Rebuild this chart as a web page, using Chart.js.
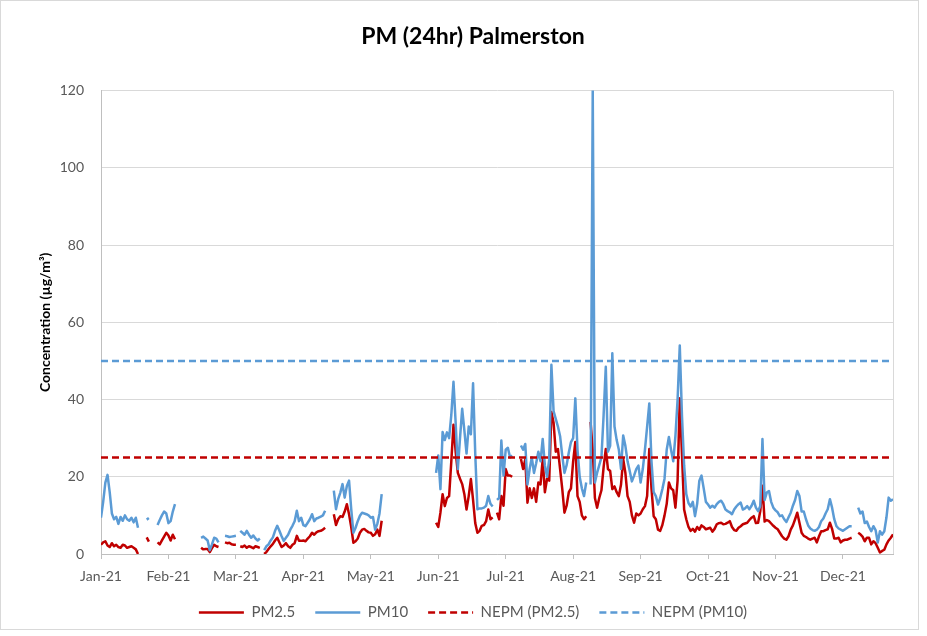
<!DOCTYPE html>
<html>
<head>
<meta charset="utf-8">
<script src="https://cdn.jsdelivr.net/npm/chart.js@4.4.1/dist/chart.umd.min.js"></script>
<style>
  html, body { margin: 0; padding: 0; background: #fff; }
  #wrap { width: 927px; height: 636px; }
</style>
</head>
<body>
<div id="wrap"><canvas id="pmChart" width="927" height="636"></canvas></div>
<script>
// daily 24hr averages for 2021, index = day of year (0 = 1 Jan), null = no data
const pm25 = [
  2.4, 3.0, 3.3, 2.2, 1.8, 2.8, 2.0, 2.4, 1.8, 1.6,
  2.4, 2.2, 1.6, 1.8, 2.0, 1.6, 1.2, 0.0, null, null,
  null, 4.3, 3.2, null, null, null, 3.0, 2.5, 3.5, 4.5,
  5.5, 4.8, 3.5, 5.0, 3.8, null, null, null, null, null,
  null, null, null, null, null, null, 1.6, 1.2, 1.3, 1.3,
  0.5, 1.5, 2.4, 2.0, 1.8, null, null, 3.0, 2.8, 2.9,
  2.5, 2.4, 2.4, null, 2.0, 1.8, 2.2, 1.6, 2.0, 1.8,
  1.5, 2.0, 1.8, 1.6, null, 0.0, 0.5, 1.3, 2.0, 2.6,
  3.5, 4.2, 3.0, 1.8, 2.2, 2.8, 2.0, 1.6, 2.4, 2.8,
  4.7, 3.4, 3.4, 3.5, 3.3, 4.0, 4.6, 5.5, 5.0, 5.6,
  5.9, 6.0, 6.3, 6.8, null, null, null, 10.3, 7.5, 9.0,
  9.8, 9.6, 11.0, 12.9, 10.3, 7.0, 2.9, 3.3, 4.0, 5.5,
  6.3, 6.5, 6.0, 5.6, 5.5, 4.7, 5.1, 6.3, 4.7, 8.6,
  null, null, null, null, null, null, null, null, null, null,
  null, null, null, null, null, null, null, null, null, null,
  null, null, null, null, 8.1, 7.0, 10.7, 15.5, 12.4, 14.5,
  15.0, 24.0, 33.5, 26.5, 21.0, 19.5, 18.1, 15.5, 11.5, 15.0,
  19.4, 14.0, 8.0, 5.5, 6.0, 7.3, 7.5, 8.5, 11.5, 9.0,
  9.5, null, 10.7, 9.0, 15.0, 12.5, 22.0, 20.3, 20.3, 20.0,
  null, null, null, 24.6, 22.0, 24.5, 13.3, 17.0, 14.5, 17.0,
  13.5, 18.5, 18.0, 24.6, 16.0, 19.5, 19.0, 36.8, 34.0, 26.5,
  27.2, 22.0, 16.8, 10.7, 12.5, 16.0, 17.0, 24.0, 29.0, 15.0,
  13.5, 10.0, 9.0, 9.8, null, 34.2, 27.0, 14.5, 12.0, 14.5,
  16.5, 22.5, 27.2, 22.0, 21.5, 16.8, 17.5, 16.0, 15.0, 18.0,
  24.6, 21.0, 15.0, 13.5, 10.0, 8.1, 10.5, 10.0, 10.5, 11.6,
  12.4, 15.0, 27.2, 17.0, 9.8, 9.0, 6.3, 6.0, 7.5, 10.0,
  13.0, 18.5, 17.0, 16.5, 12.0, 19.0, 40.3, 26.0, 11.5, 9.0,
  7.0, 6.0, 6.5, 5.8, 7.0, 6.3, 7.4, 7.0, 6.4, 6.6,
  6.8, 5.8, 6.5, 7.7, 8.0, 8.1, 7.7, 7.8, 8.1, 8.5,
  7.0, 6.2, 6.0, 6.8, 7.2, 7.7, 7.9, 8.1, 8.8, 9.4,
  9.8, 8.0, 8.1, 11.1, 17.7, 8.4, 8.8, 8.5, 7.9, 7.3,
  6.8, 6.4, 5.5, 4.6, 4.0, 3.7, 4.6, 6.3, 7.4, 9.0,
  10.7, 8.1, 5.5, 4.7, 4.4, 4.0, 3.7, 4.0, 4.2, 3.0,
  4.6, 5.9, 5.9, 6.2, 6.4, 8.1, 6.5, 4.0, 4.0, 4.2,
  3.0, 3.5, 3.7, 3.7, 4.0, 4.2, null, null, 5.5, 5.1,
  4.5, 3.3, 4.2, 4.2, 2.5, 3.3, 2.8, 1.6, 0.4, 0.8,
  1.1, 2.5, 3.5, 4.2, 5.1
];

const pm10 = [
  9.4, 13.5, 18.5, 20.5, 16.0, 10.5, 9.0, 9.6, 7.8, 9.6,
  8.6, 10.0, 9.0, 8.6, 9.4, 8.2, 9.4, 6.8, null, null,
  null, 8.9, 9.3, null, null, null, 7.5, 8.8, 10.0, 11.0,
  10.5, 8.0, 8.5, 11.0, 12.9, null, null, null, null, null,
  null, null, null, null, null, null, 4.2, 4.5, 4.0, 3.5,
  1.0, 2.5, 4.2, 4.0, 3.0, null, null, 4.7, 4.6, 4.4,
  4.5, 4.6, 4.7, null, 6.0, 5.5, 5.0, 6.0, 5.0, 4.2,
  4.8, 4.0, 3.5, 4.0, null, 1.0, 2.0, 2.5, 3.5, 4.3,
  6.0, 7.3, 6.0, 4.6, 3.4, 4.2, 5.0, 6.3, 7.3, 8.5,
  11.2, 8.5, 9.4, 7.5, 7.2, 8.1, 9.0, 10.3, 8.5, 9.2,
  9.4, 9.7, 10.0, 11.2, null, null, null, 16.4, 11.6, 14.2,
  15.9, 18.1, 14.6, 17.6, 19.0, 11.6, 5.5, 6.8, 8.5, 9.9,
  10.7, 10.5, 10.3, 10.0, 9.4, 9.6, 6.3, 7.8, 10.5, 15.5,
  null, null, null, null, null, null, null, null, null, null,
  null, null, null, null, null, null, null, null, null, null,
  null, null, null, null, 21.0, 25.5, 16.8, 31.6, 29.5, 31.5,
  30.0, 36.0, 44.6, 34.0, 22.0, 30.0, 37.6, 32.0, 26.0, 33.0,
  31.0, 44.2, 26.0, 11.6, 11.8, 11.8, 12.0, 12.5, 15.0, 13.0,
  12.3, null, 14.0, 14.5, 29.4, 20.3, 27.0, 27.5, 25.0, 25.5,
  null, null, null, 28.1, 27.0, 28.5, 18.0, 22.0, 25.0, 21.0,
  23.5, 26.5, 24.0, 29.8, 23.0, 20.0, 24.5, 49.0, 37.0, 35.0,
  33.0, 30.5, 25.4, 21.0, 23.0, 26.3, 29.0, 30.0, 40.3, 27.0,
  20.0, 17.0, 15.0, 18.5, null, 18.0, 120.0, 18.5, 21.0, 23.0,
  25.0, 36.0, 48.5, 26.5, 28.0, 52.0, 33.0, 29.5, 27.0, 22.0,
  30.7, 28.0, 24.0, 21.5, 18.8, 20.3, 22.0, 22.9, 18.5, 22.0,
  27.0, 33.0, 39.0, 24.0, 16.0, 15.0, 12.8, 14.5, 16.8, 19.5,
  27.0, 30.3, 27.0, 24.0, 30.5, 40.0, 54.0, 36.0, 23.0, 15.5,
  13.2, 12.3, 13.5, 9.8, 13.0, 19.0, 20.3, 17.0, 13.5, 12.8,
  12.0, 12.5, 12.0, 12.9, 13.5, 13.8, 12.9, 11.5, 11.1, 10.8,
  10.3, 11.5, 12.3, 12.9, 13.3, 11.5, 11.8, 12.4, 11.6, 12.5,
  13.8, 12.0, 11.1, 12.4, 29.8, 14.0, 15.9, 16.3, 13.5, 12.0,
  11.3, 10.8, 9.8, 10.0, 9.0, 8.3, 9.5, 10.7, 12.5, 14.0,
  16.3, 15.0, 11.0, 11.0, 9.0, 7.4, 6.6, 6.2, 6.0, 6.3,
  7.0, 8.5, 9.2, 10.5, 11.6, 14.2, 12.0, 9.0, 7.2, 6.6,
  6.3, 6.0, 6.4, 6.8, 7.2, 7.2, null, null, 12.0, 10.5,
  11.0, 8.0, 8.4, 7.0, 5.9, 7.2, 6.2, 3.0, 5.9, 5.0,
  5.9, 9.5, 14.6, 13.8, 14.2
];

// NEPM 24hr standards
const nepmPm25 = 25;
const nepmPm10 = 50;

// axis labels, one every 31 days (Excel category axis)
const tickLabels = ["Jan-21", "Feb-21", "Mar-21", "Apr-21", "May-21", "Jun-21",
  "Jul-21", "Aug-21", "Sep-21", "Oct-21", "Nov-21", "Dec-21"];
const tickStep = 31;

const lastDay = pm10.length - 1;
const toPoints = (arr) => arr.map((v, i) => ({ x: i, y: v }));
const flatLine = (v) => [{ x: 0, y: v }, { x: lastDay, y: v }];

const RED = "#c00000";
const BLUE = "#5b9bd5";

Chart.defaults.font.family = "Lato, 'Liberation Sans', sans-serif";
Chart.defaults.color = "#595959";

// white background, outer chart frame and right edge of plot area
const frame = {
  id: "frame",
  beforeDraw(chart) {
    const { ctx, width, height } = chart;
    ctx.save();
    ctx.fillStyle = "#fff";
    ctx.fillRect(0, 0, width, height);
    ctx.restore();
  },
  afterDraw(chart) {
    const { ctx, chartArea } = chart;
    ctx.save();
    ctx.strokeStyle = "#d9d9d9";
    ctx.lineWidth = 1;
    ctx.strokeRect(0.5, 0.5, 918, 629);
    ctx.beginPath();
    ctx.moveTo(Math.round(chartArea.right) + 0.5, chartArea.top);
    ctx.lineTo(Math.round(chartArea.right) + 0.5, chartArea.bottom);
    ctx.stroke();
    ctx.restore();
  },
};

const lineStyle = {
  pointRadius: 0,
  pointHoverRadius: 0,
  borderWidth: 2.5,
  tension: 0,
  fill: false,
  spanGaps: false,
  borderJoinStyle: "round",
};

// point-style legend drops the dataset dash, put it back
const legendLabels = (chart) =>
  Chart.defaults.plugins.legend.labels.generateLabels(chart).map((item) => ({
    ...item,
    lineDash: chart.data.datasets[item.datasetIndex].borderDash || [],
    lineWidth: 2.5,
  }));

const ctx = document.getElementById("pmChart").getContext("2d");

new Chart(ctx, {
  type: "line",
  data: {
    datasets: [
      { ...lineStyle, label: "PM2.5", data: toPoints(pm25), borderColor: RED, backgroundColor: RED, order: 4 },
      { ...lineStyle, label: "PM10", data: toPoints(pm10), borderColor: BLUE, backgroundColor: BLUE, order: 3 },
      { ...lineStyle, label: "NEPM (PM2.5)", data: flatLine(nepmPm25), borderColor: RED, backgroundColor: RED, borderDash: [7, 4], order: 2 },
      { ...lineStyle, label: "NEPM (PM10)", data: flatLine(nepmPm10), borderColor: BLUE, backgroundColor: BLUE, borderDash: [7, 4], order: 1 },
    ],
  },
  options: {
    responsive: false,
    animation: false,
    // left padding keeps title and legend centred like the excel original
    layout: { padding: { left: 53, right: 34, top: 0, bottom: 6 } },
    scales: {
      x: {
        type: "linear",
        min: 0,
        max: lastDay,
        afterBuildTicks: (scale) => {
          scale.ticks = tickLabels.map((_, i) => ({ value: i * tickStep }));
        },
        afterFit: (scale) => {
          scale.height = 31;
        },
        ticks: {
          callback: (value) => tickLabels[Math.round(value / tickStep)],
          autoSkip: false,
          maxRotation: 0,
          padding: 9,
          font: { size: 14 },
        },
        grid: { drawOnChartArea: false, drawTicks: true, tickLength: 5, color: "#bfbfbf" },
        border: { color: "#bfbfbf" },
      },
      y: {
        min: 0,
        max: 120,
        afterFit: (scale) => {
          scale.width = 48;
        },
        ticks: { stepSize: 20, padding: 17, font: { size: 14 } },
        grid: { color: "#d9d9d9", drawTicks: false },
        border: { color: "#bfbfbf" },
        title: {
          display: true,
          text: "Concentration (µg/m³)",
          color: "#000",
          font: { size: 14, weight: "bold" },
          padding: { top: -16, bottom: 0 },
        },
      },
    },
    plugins: {
      title: {
        display: true,
        text: "PM (24hr) Palmerston",
        color: "#000",
        font: { size: 23, weight: "bold" },
        padding: { top: 23, bottom: 40 },
      },
      legend: {
        position: "bottom",
        labels: {
          usePointStyle: true,
          pointStyle: "line",
          pointStyleWidth: 45,
          padding: 20,
          font: { size: 15 },
          generateLabels: legendLabels,
          sort: (a, b) => a.datasetIndex - b.datasetIndex,
        },
      },
      tooltip: { enabled: false },
    },
  },
  plugins: [frame],
});
</script>
</body>
</html>
